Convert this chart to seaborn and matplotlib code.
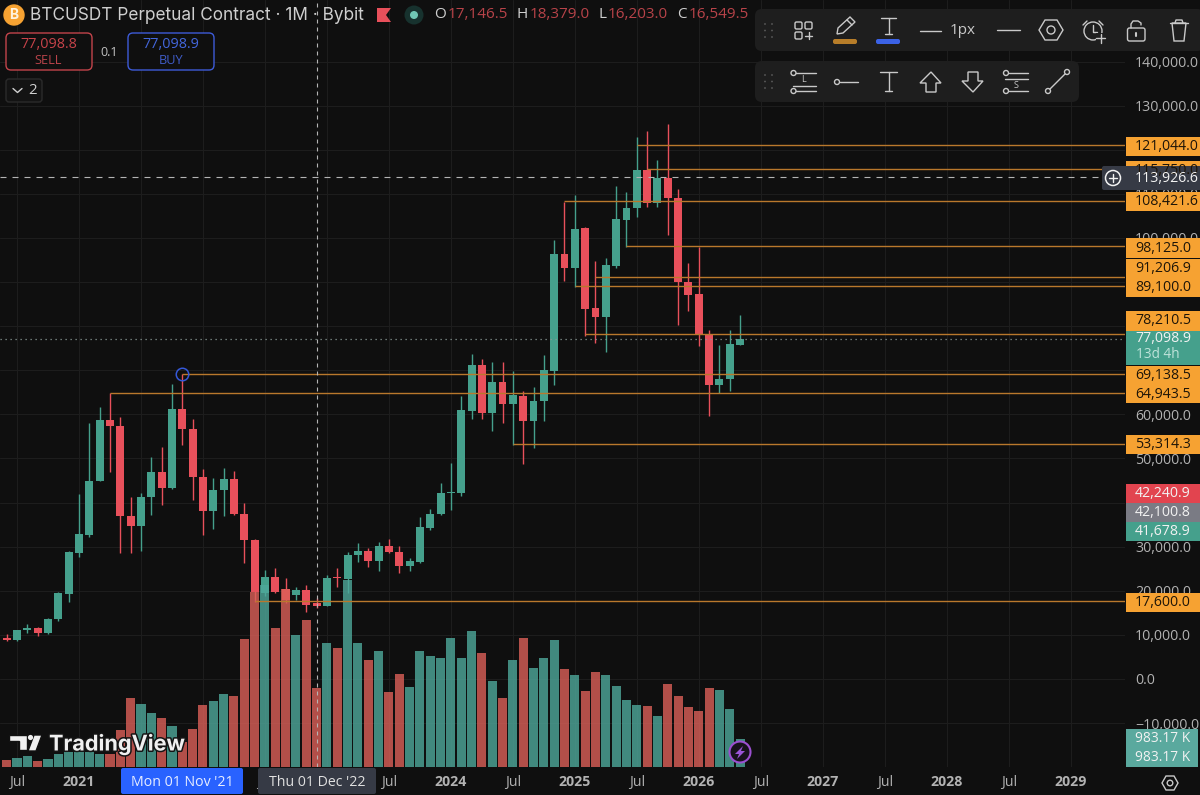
import pandas as pd
import matplotlib
matplotlib.use("Agg")
import matplotlib.pyplot as plt
import matplotlib.patheffects as pe
import seaborn as sns
from matplotlib.patches import FancyBboxPatch, Circle, Polygon, Rectangle

# months counted from Jan 2021, first candle is Jun 2020
months = list(range(-7, 65))

opens = [9400, 8800, 11100, 11480, 10340, 13520, 19340,
         28490, 32720, 44890, 58650, 57440, 37030, 34690, 41190, 46930, 43380, 61150, 56610,
         45880, 38090, 42850, 45270, 37410, 31510, 19420, 23050, 20330, 19050, 20180, 17146.5,
         16549.5, 23120, 22740, 28110, 28940, 26830, 30230, 28870, 25540, 26450, 34310, 37340,
         42250, 42100, 60835, 71190, 60230, 67410, 62420, 64240, 58570, 63030, 69910, 96290,
         93120, 102190, 84040, 82080, 93720, 104150, 106720, 115420, 107860, 113680, 109140, 89940,
         87220, 78300, 66580, 67940, 75800]
highs = [10200, 11200, 12390, 11860, 13900, 19720, 29090,
         41870, 58120, 61600, 64780, 59330, 41190, 42100, 50260, 52680, 66890, 69138.5, 58880,
         47690, 45650, 47920, 47240, 39830, 31660, 24720, 25100, 22830, 20940, 21320, 18379,
         23570, 25090, 28870, 30760, 29620, 31130, 31660, 30150, 27360, 36660, 38470, 44520,
         48900, 64160, 73690, 72550, 71800, 71950, 69830, 65300, 66280, 73460, 99540, 108240,
         109750, 102410, 94780, 95540, 111790, 110350, 122980, 124340, 117610, 125850, 111030, 94250,
         97880, 79130, 75730, 79130, 82610]
lows = [8700, 8700, 10340, 9740, 10190, 13070, 17450,
        27730, 32270, 44820, 46930, 28640, 28490, 29090, 37110, 39370, 43080, 52980, 40580,
        32650, 34010, 36960, 37260, 26220, 17530, 18900, 19420, 17300, 17910, 15270, 16203,
        16490, 20930, 19420, 26600, 25460, 24560, 28490, 23950, 24560, 26370, 33780, 37260,
        38320, 41570, 58870, 58870, 56300, 58110, 53050, 48740, 52440, 58570, 66580, 90240,
        88810, 77770, 76260, 74220, 93190, 97880, 104830, 107100, 107100, 100750, 80260, 83520,
        75500, 59700, 64770, 65370, 75650]
closes = [8800, 11100, 11480, 10340, 13600, 19420, 28720,
          32870, 44890, 58650, 57440, 36960, 34690, 41190, 46930, 43380, 61150, 56610, 45800,
          38090, 42850, 45270, 37330, 31510, 19650, 23050, 19650, 17910, 20180, 16860, 16549.5,
          22820, 22890, 28110, 28940, 26830, 30230, 28790, 25540, 26680, 34460, 37410, 42170,
          42480, 61000, 71190, 60230, 67410, 62420, 64310, 58570, 63030, 70060, 96290, 93120,
          102110, 83970, 82080, 93870, 104310, 106800, 115420, 107860, 113680, 109070, 89940, 87140,
          78300, 66580, 67940, 75950, 77098.9]
# volume in thousands
volumes = [260, 319, 379, 201, 284, 473, 532,
           532, 532, 450, 450, 1301, 2449, 2224, 1928, 1739, 1443, 887, 1360,
           2189, 2331, 2579, 2520, 4555, 6200, 6450, 4924, 6308, 4675, 5208, 2794,
           4391, 4214, 6628, 4391, 3788, 4107, 2652, 3291, 2839, 4129, 3928, 3880,
           4566, 3880, 4827, 4034, 3064, 2437, 3786, 4566, 3514, 3857, 4495, 3490,
           3253, 2685, 3360, 3253, 2863, 2390, 2212, 2165, 1810, 2934, 2520, 2141,
           1987, 2816, 2721, 2070, 983.17]

# drawn levels and the candle month each one starts from
level_prices = [121044.0, 115750.0, 108421.6, 98125.0, 91206.9, 89100.0, 78210.5,
                69138.5, 64943.5, 53314.3, 17600.0]
level_starts = [54, 55, 47, 53, 50, 48, 49, 10, 3, 42, 17]

price_ticks = list(range(-10000, 150000, 10000))
# these sit fully behind the label boxes in the app
hidden_prices = [40000, 70000, 80000, 90000, 120000]
time_ticks = list(range(-6, 97, 6))
# 2021-2023 neighbours are covered by the crosshair date boxes
time_labels = ["Jul", "2021", "", "", "Jul", "", "Jul", "2024", "Jul", "2025",
               "Jul", "2026", "Jul", "2027", "Jul", "2028", "Jul", "2029"]

BG = "#0F0F0F"
GRID = "#1D1D1D"
GREEN = "#45A08C"
RED = "#E8505B"
ORANGE = "#F6A232"
LINE_ORANGE = "#B9782C"
GRAY = "#B2B2B2"
PANEL = "#1E1E1E"
ICON = "#C9C9C9"
FONT = "Inter"
NUM_FONT = "Open Sans"
NUM_SIZE = 10.2

sns.set_theme(style="dark")
plt.rcParams["font.family"] = [FONT, "DejaVu Sans"]

df = pd.DataFrame({"month": months, "open": opens, "high": highs, "low": lows,
                   "close": closes, "volume": volumes})
df["side"] = ["down" if c < o else "up" for o, c in zip(df["open"], df["close"])]

fig = plt.figure(figsize=(12, 7.95), dpi=100, facecolor=BG)
rect = [0, 28 / 795, 1125 / 1200, 767 / 795]
xlim = (-7.647, 101.26)
ylim = (-19955, 153968)

# candles at the bottom
ax = fig.add_axes(rect, facecolor=BG)
ax.set_xlim(xlim)
ax.set_ylim(ylim)
ax.set_xticks(time_ticks)
ax.set_yticks(price_ticks)
ax.grid(True, color=GRID, linewidth=0.8)
ax.set_axisbelow(True)
ax.tick_params(left=False, bottom=False, labelleft=False, labelbottom=False)
for s in ax.spines.values():
    s.set_visible(False)

colors = df["side"].map({"up": GREEN, "down": RED})
ax.vlines(df["month"], df["low"], df["high"], colors=colors, linewidth=1.0, zorder=3)
body_bottom = df[["open", "close"]].min(axis=1)
body_height = (df["open"] - df["close"]).abs().clip(lower=250)
ax.bar(df["month"], body_height, bottom=body_bottom, width=0.77, color=colors, linewidth=0, zorder=4)

# volume sits over the candles
axv = fig.add_axes(rect, facecolor="none")
sns.barplot(data=df, x="month", y="volume", hue="side", native_scale=True, dodge=False,
            palette={"up": "#4EA89B", "down": "#DC6058"}, width=0.88, alpha=0.8, saturation=1,
            linewidth=0, legend=False, ax=axv)
axv.set_xlim(xlim)
axv.set_ylim(0, 27230)
axv.axis("off")

# levels, crosshair and axis labels on top
axl = fig.add_axes(rect, facecolor="none")
axl.set_xlim(xlim)
axl.set_ylim(ylim)
axl.grid(False)
for s in axl.spines.values():
    s.set_visible(False)
axl.hlines(level_prices, level_starts, xlim[1], colors=LINE_ORANGE, linewidth=1.0)
axl.axvline(23, color="#B4B4B4", linewidth=0.8, dashes=(3.6, 3.6))
axl.hlines(113926.6, xlim[0], 99, colors="#B4B4B4", linewidth=0.8, linestyles=(0, (5.4, 5.4)))
axl.hlines(77098.9, xlim[0], xlim[1], colors="#8A9A96", linewidth=0.9, linestyles=(0, (1, 3)))
axl.plot([10], [69138.5], "o", ms=9, mfc="none", mec="#3558D8", mew=1.1, clip_on=False)

axl.yaxis.tick_right()
axl.set_yticks(price_ticks)
axl.set_yticklabels(["" if v in hidden_prices else f"{v:,.1f}".replace("-", "\u2212") for v in price_ticks],
                    fontsize=NUM_SIZE, color=GRAY, family=NUM_FONT)
axl.set_xticks(time_ticks)
axl.set_xticklabels(time_labels, fontsize=NUM_SIZE, color=GRAY, family=NUM_FONT)
for lab in axl.get_xticklabels():
    if lab.get_text() != "Jul":
        lab.set_fontweight("bold")
axl.tick_params(axis="y", length=0, pad=7.2)
axl.tick_params(axis="x", length=0, pad=6)

# the interface around the chart, in screen pixels
ui = fig.add_axes([0, 0, 1, 1], facecolor="none")
ui.set_xlim(0, 1200)
ui.set_ylim(795, 0)
ui.axis("off")


def box(x0, y0, x1, y1, fc, ec="none", r=2, lw=1.0, z=5):
    ui.add_patch(FancyBboxPatch((x0, y0), x1 - x0, y1 - y0, boxstyle=f"round,pad=0,rounding_size={r}",
                                fc=fc, ec=ec, lw=lw, zorder=z))


def txt(x, y, s, color=GRAY, size=NUM_SIZE, ha="left", weight="normal", z=8, family=NUM_FONT):
    return ui.text(x, y, s, color=color, fontsize=size, ha=ha, va="center", fontweight=weight,
                   zorder=z, family=family)


def seg(xs, ys, color=ICON, lw=1.0, z=7):
    ui.plot(xs, ys, color=color, lw=lw, zorder=z, solid_capstyle="round")


def ring(x, y, r, color=ICON, lw=1.0, fc="none", z=7):
    ui.add_patch(Circle((x, y), r, fc=fc, ec=color, lw=lw, zorder=z))


def grip(y0):
    for gx in (765, 772):
        for gy in (y0, y0 + 6.5, y0 + 13):
            ui.add_patch(Circle((gx, gy), 0.9, fc="#5A5A5A", ec="none", zorder=7))


# price labels, the stacked ones are pushed apart like in the app
price_boxes = [
    (137, 156, "121,044.0", ORANGE, "#1E1508"),
    (161, 180, "115,750.0", ORANGE, "#1E1508"),
    (192, 211, "108,421.6", ORANGE, "#1E1508"),
    (238, 258, "98,125.0", ORANGE, "#1E1508"),
    (259, 278, "91,206.9", ORANGE, "#1E1508"),
    (278, 297, "89,100.0", ORANGE, "#1E1508"),
    (311, 331, "78,210.5", ORANGE, "#1E1508"),
    (366, 385, "69,138.5", ORANGE, "#1E1508"),
    (385, 403, "64,943.5", ORANGE, "#1E1508"),
    (435, 454, "53,314.3", ORANGE, "#1E1508"),
    (484, 503, "42,240.9", "#E2444F", "#F2F2F2"),
    (503, 522, "42,100.8", "#7A7B84", "#F2F2F2"),
    (522, 541, "41,678.9", GREEN, "#F2F2F2"),
    (593, 612, "17,600.0", ORANGE, "#1E1508"),
]
for y0, y1, label, fc, tc in price_boxes:
    ui.add_patch(Rectangle((1126, y0), 74, y1 - y0, fc=fc, ec="none", zorder=5))
    txt(1135, (y0 + y1) / 2, label, color=tc)

ui.add_patch(Rectangle((1126, 331), 74, 34, fc=GREEN, ec="none", zorder=5))
txt(1135, 339, "77,098.9", color="#F2F2F2")
txt(1136, 355, "13d 4h", color="#BFE3DA", size=9.8)

# crosshair price
box(1102, 166, 1202, 190, "#363A45", r=2, z=6)
txt(1135, 178, "113,926.6", color="#F2F2F2")
ring(1113, 178, 7.5, color="#F2F2F2", lw=1.1)
seg([1109, 1117], [178, 178], color="#F2F2F2")
seg([1113, 1113], [174, 182], color="#F2F2F2")

# volume labels
ui.add_patch(Rectangle((1126, 729), 72, 38, fc="#5AA99E", ec="none", zorder=5))
txt(1135, 738.5, "983.17 K", color="#F2F2F2", size=9.9)
txt(1135, 757.5, "983.17 K", color="#F2F2F2", size=9.9)

# time labels of the crosshair and the marker
box(121, 768, 243, 794, "#2962FF", r=2)
txt(182, 783, "Mon 01 Nov '21", color="#E8EEFF", ha="center")
box(258, 768, 376, 794, "#363A45", r=2)
txt(317, 783, "Thu 01 Dec '22", color="#E0E0E0", ha="center")

# settings hexagon
ui.add_patch(Polygon([(1162, 783), (1166, 776), (1174, 776), (1178, 783), (1174, 790), (1166, 790)],
                     closed=True, fc="none", ec=ICON, lw=1.0, zorder=7))
ring(1170, 783, 2.8)

# header
ring(14, 15, 10, color=ORANGE, fc=ORANGE, z=6)
txt(14, 15, "B", color="#FFF3E0", size=10, ha="center", weight="bold", family=FONT)
txt(30, 15, "BTCUSDT Perpetual Contract \u00b7 1M \u00b7 Bybit", color="#CFCFCF", size=12.4, family=FONT)
ui.add_patch(Polygon([(377, 8), (391, 8), (386, 15), (391, 22), (377, 22)], closed=True, fc=RED, ec="none", zorder=6))
ring(414, 15, 9.5, color="none", fc="#17322E")
ring(414, 15, 4, color="none", fc="#6FC7B4", z=8)
for lx, vx, lab, val in [(434, 448, "O", "17,146.5"), (516, 530, "H", "18,379.0"),
                         (598, 608, "L", "16,203.0"), (677, 689, "C", "16,549.5")]:
    txt(lx, 15, lab, color="#CFCFCF", size=11)
    txt(vx, 15, val, color="#B84349", size=11)

# buy and sell buttons
box(6, 33, 92, 70, BG, ec="#C2444B", r=5)
txt(48.5, 44.5, "77,098.8", color="#C8434A", ha="center", size=10.4)
txt(48.5, 60, "SELL", color="#B9434A", ha="center", size=9.2)
txt(109, 52, "0.1", color="#C0C0C0", ha="center", size=9)
box(128, 33, 214, 70, BG, ec="#3D5BD8", r=5)
txt(171, 44.5, "77,098.9", color="#4467DD", ha="center", size=10.4)
txt(171, 60, "BUY", color="#3F5CC8", ha="center", size=9.2)
box(6, 79, 42, 102, "#131313", ec="#2B2B2B", r=3)
seg([13, 17.5, 22], [88.5, 92.5, 88.5], color="#D0D0D0")
txt(32.5, 90.5, "2", color="#D0D0D0", ha="center", size=10.8)

# drawing toolbars
box(755, 9, 1204, 51, PANEL, r=7)
box(755, 61, 1079, 102, PANEL, r=7)
grip(24)
grip(75)

# layout icon
box(795, 22, 802, 29, "none", ec=ICON, r=1.5, z=7)
box(805, 22, 812, 29, "none", ec=ICON, r=1.5, z=7)
box(795, 32, 802, 39, "none", ec=ICON, r=1.5, z=7)
seg([805, 812], [35.5, 35.5])
seg([808.5, 808.5], [32, 39])

# pencil
ui.add_patch(Polygon([(837, 34), (838, 28), (850, 17), (855, 22), (843, 33)], closed=True, fc="none", ec=ICON, lw=1.0, zorder=7))
seg([847, 852], [20, 25])
box(833, 39, 857, 44, "#B77D29", r=2)

# text colour
seg([881, 896], [18, 18])
seg([888.5, 888.5], [18, 34])
seg([885, 892], [34, 34])
box(876, 39, 900, 44, "#3B62E6", r=2)

seg([920, 941], [30.5, 30.5])
txt(950, 31, "1px", color=ICON, size=11)
seg([997, 1020], [30, 30])

ui.add_patch(Polygon([(1039, 30), (1045, 20), (1057, 20), (1063, 30), (1057, 40), (1045, 40)], closed=True, fc="none", ec=ICON, lw=1.0, zorder=7))
ring(1051, 30, 4)

# alarm
ring(1093, 31, 9)
seg([1093, 1093, 1097], [25, 32, 32])
seg([1083, 1087], [25, 21])
seg([1099, 1103], [21, 25])
ui.add_patch(Rectangle((1096, 33), 10, 10, fc=PANEL, ec="none", zorder=7))
seg([1096, 1105], [38, 38], z=8)
seg([1100.5, 1100.5], [33.5, 42.5], z=8)

# lock
box(1127.5, 28, 1145, 41, "none", ec=ICON, r=2, z=7)
seg([1131, 1131, 1133, 1138, 1141, 1141], [28, 24, 21, 21, 23, 25])
seg([1136, 1136], [33, 36], lw=1.5)

# trash
seg([1170, 1188], [23, 23])
seg([1175, 1176, 1182, 1183], [23, 20, 20, 23])
ui.add_patch(Polygon([(1172, 23), (1174, 41), (1184, 41), (1186, 23)], closed=True, fc="none", ec=ICON, lw=1.0, zorder=7))

# long position
ring(793.5, 73, 2.5)
seg([796, 816], [73, 73])
txt(804, 79.5, "L", color=ICON, size=6.5, ha="center")
seg([793, 816], [85.5, 85.5])
ring(793.5, 91, 2.5)
seg([796, 816], [91, 91])

# horizontal ray
ring(837, 82, 2.5)
seg([839.5, 858], [82, 82])

# text tool
seg([880, 897], [72, 72])
seg([888.5, 888.5], [72, 91])
seg([885, 892], [91, 91])

# arrows
ui.add_patch(Polygon([(931, 72), (941, 83), (936, 83), (936, 92), (926, 92), (926, 83), (920, 83)],
                     closed=True, fc="none", ec=ICON, lw=1.0, zorder=7))
ui.add_patch(Polygon([(973, 92), (983, 81), (978, 81), (978, 72), (968, 72), (968, 81), (962, 81)],
                     closed=True, fc="none", ec=ICON, lw=1.0, zorder=7))

# short position
ring(1006, 73, 2.5)
seg([1008.5, 1028], [73, 73])
seg([1005, 1028], [79, 79])
txt(1016, 85, "S", color=ICON, size=6.5, ha="center")
ring(1006, 91, 2.5)
seg([1008.5, 1028], [91, 91])

# trend line
ring(1048, 91, 2.5)
ring(1067, 72, 2.5)
seg([1050, 1065], [89, 74])

# bolt marker at the last bar
ring(740, 752, 10.5, color="#9B4FD0", lw=1.5, fc="#17121C")
ui.add_patch(Polygon([(743, 746), (735, 754), (739, 754), (737, 759), (745, 751), (741, 751)],
                     closed=True, fc="#9B55D8", ec="none", zorder=8))

# watermark
wm = [Polygon([(9, 735), (27, 735), (27, 750), (19, 750), (19, 741), (9, 741)], closed=True, fc="#F0F0F0", ec="#111111", lw=1.0, zorder=8),
      Polygon([(34, 735), (42, 735), (36, 751), (28, 751)], closed=True, fc="#F0F0F0", ec="#111111", lw=1.0, zorder=8)]
for p in wm:
    ui.add_patch(p)
ui.add_patch(Circle((30.5, 737.5), 2.6, fc="#F0F0F0", ec="none", zorder=8))
wt = txt(49, 744, "TradingView", color="#F0F0F0", size=15.6, weight="bold", family=FONT)
wt.set_path_effects([pe.withStroke(linewidth=2.2, foreground="#151515")])

fig.savefig("out.png", dpi=100, facecolor=BG)
